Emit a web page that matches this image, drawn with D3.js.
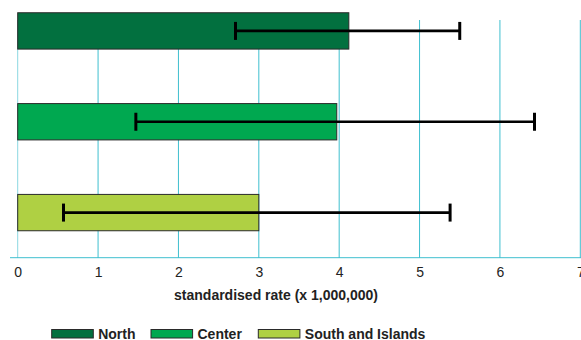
<!DOCTYPE html>
<html>
<head>
<meta charset="utf-8">
<script src="https://cdn.jsdelivr.net/npm/d3@7"></script>
<style>
  html, body { margin: 0; padding: 0; background: #fff; }
  svg { display: block; font-family: "Liberation Sans", Arial, Helvetica, sans-serif; }
</style>
</head>
<body>
<svg id="chart" width="581" height="340"></svg>
<script>
// Standardised rates by area, with confidence intervals
const regions = ["North", "Center", "South and Islands"];
const rates = [4.12, 3.97, 3.0];
const lower = [2.71, 1.47, 0.57];
const upper = [5.5, 6.43, 5.38];
const colors = ["#02703f", "#00a850", "#afd043"];
const ticks = [0, 1, 2, 3, 4, 5, 6, 7];
const axisTitle = "standardised rate (x 1,000,000)";

const svg = d3.select("#chart");
const grid = "#3fbfcf";

const x = d3.scaleLinear().domain([0, 7]).range([17.7, 580.3]);
const y = d3.scaleBand().domain(regions).range([-14.5, 258]).paddingInner(0.6).paddingOuter(0.3);

// vertical grid lines
svg.append("g").selectAll("line").data(ticks).join("line")
  .attr("x1", d => x(d)).attr("x2", d => x(d))
  .attr("y1", 20).attr("y2", 258)
  .attr("stroke", grid).attr("stroke-width", 1)
  .attr("opacity", d => d === 0 ? 0.6 : 1);

// baseline
svg.append("line")
  .attr("x1", 10).attr("x2", 581).attr("y1", 257.7).attr("y2", 257.7)
  .attr("stroke", grid).attr("stroke-width", 1);

// tick labels
const axis = d3.axisBottom(x).tickValues(ticks).tickFormat(d3.format("d")).tickSize(0).tickPadding(9);
const ag = svg.append("g").attr("transform", "translate(0,257.7)").call(axis);
ag.select(".domain").remove();
ag.selectAll("text").attr("font-size", 14).attr("fill", "#222")
  .attr("font-family", "Liberation Sans, Arial, sans-serif");

// bars
svg.append("g").selectAll("rect").data(regions).join("rect")
  .attr("x", x(0))
  .attr("y", d => y(d))
  .attr("width", (d, i) => x(rates[i]) - x(0))
  .attr("height", y.bandwidth())
  .attr("fill", (d, i) => colors[i])
  .attr("stroke", "#2a2a2a").attr("stroke-width", 1);

// error bars
const eb = svg.append("g").attr("stroke", "#000").attr("stroke-width", 2.6);
regions.forEach((r, i) => {
  const cy = y(r) + y.bandwidth() / 2;
  eb.append("line").attr("x1", x(lower[i])).attr("x2", x(upper[i])).attr("y1", cy).attr("y2", cy);
  eb.append("line").attr("x1", x(lower[i])).attr("x2", x(lower[i])).attr("y1", cy - 9).attr("y2", cy + 9).attr("stroke-width", 3);
  eb.append("line").attr("x1", x(upper[i])).attr("x2", x(upper[i])).attr("y1", cy - 9).attr("y2", cy + 9).attr("stroke-width", 3);
});

// axis title
svg.append("text")
  .attr("x", 276).attr("y", 300)
  .attr("text-anchor", "middle")
  .attr("font-size", 14).attr("font-weight", "bold").attr("fill", "#222")
  .text(axisTitle);

// legend
const legendX = [51.7, 151, 258.3];
const lg = svg.append("g");
regions.forEach((r, i) => {
  lg.append("rect")
    .attr("x", legendX[i]).attr("y", 329.5).attr("width", 41.6).attr("height", 8.5)
    .attr("fill", colors[i]).attr("stroke", "#2a2a2a").attr("stroke-width", 1);
  lg.append("text")
    .attr("x", legendX[i] + 46.5).attr("y", 338.5)
    .attr("font-size", 14).attr("font-weight", "bold").attr("fill", "#222")
    .text(r);
});
</script>
</body>
</html>
